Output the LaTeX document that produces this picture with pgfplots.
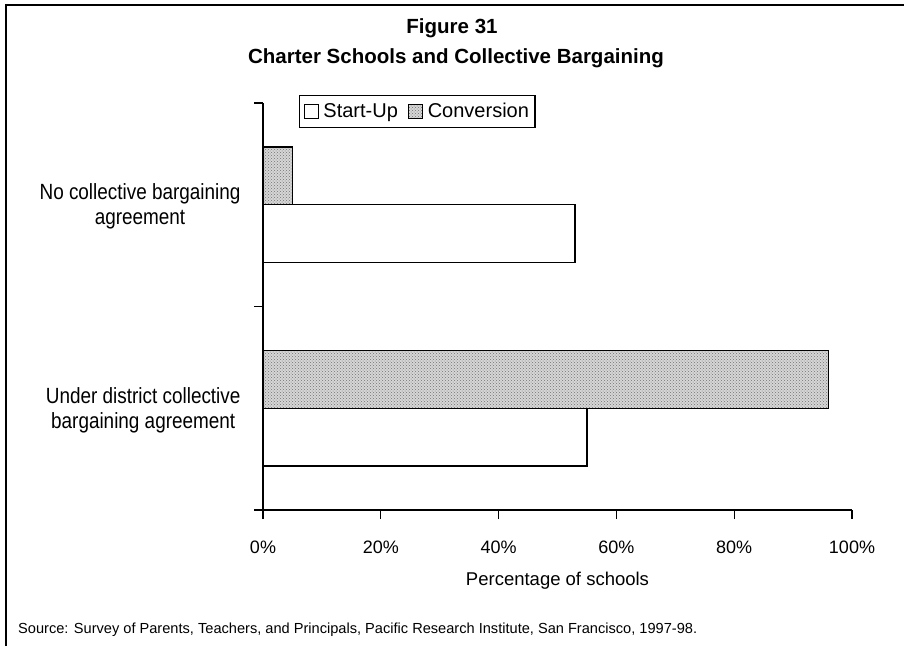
\documentclass[border=0pt]{standalone}
\usepackage{fontspec}
\setmainfont{Liberation Sans}
\newfontfamily\narrowfont{Liberation Sans}[FakeStretch=0.86]
\usepackage{pgfplots}
\pgfplotsset{compat=1.18}
\usetikzlibrary{patterns}
\definecolor{convgray}{gray}{0.84}
\begin{document}
\begin{tikzpicture}[x=1pt,y=1pt]
\useasboundingbox (0,0) rectangle (904,646);
% frame
\draw[line width=2pt] (6,0) -- (6,641) -- (904,641);
% titles
\node[anchor=base,inner sep=0pt,font=\bfseries\fontsize{20.5}{24}\selectfont] at (452,612) {Figure 31};
\node[anchor=base,inner sep=0pt,font=\bfseries\fontsize{20.5}{24}\selectfont] at (456,582) {Charter Schools and Collective Bargaining};
\node[anchor=base west,font=\fontsize{14.6}{18}\selectfont, inner sep=0pt] at (18,13) {Source: Survey of Parents, Teachers, and Principals, Pacific Research Institute, San Francisco, 1997-98.};
\begin{axis}[
  at={(263pt,136pt)}, anchor=south west,
  scale only axis, width=589pt, height=407pt,
  xbar, bar width=0.283,
  xmin=0, xmax=100, ymin=-0.5, ymax=1.5,
  axis x line=bottom, axis y line=left,
  axis line style={line width=1.3pt,-},
  xtick={0,20,40,60,80,100},
  xticklabels={0\%,20\%,40\%,60\%,80\%,100\%},
  xticklabel style={font=\fontsize{18}{20}\selectfont, yshift=-18pt},
  xlabel={Percentage of schools},
  xlabel style={font=\fontsize{18.5}{20}\selectfont, yshift=-12pt},
  ytick={0,1},
  yticklabels={Under district collective\\bargaining agreement, No collective bargaining\\agreement},
  yticklabel style={font=\narrowfont\fontsize{22}{25}\selectfont, align=center, xshift=-10pt, yshift=-2pt},
  y tick style={draw=none},
  extra y ticks={-0.5,0.5,1.5},
  extra y tick labels={},
  extra y tick style={y tick style={draw=black}},
  tick align=outside,
  major tick length=9pt,
  tick style={line width=1.3pt, black},
  legend style={at={(0.061,1.02)}, anchor=north west, draw=black, line width=1.2pt,
    font=\fontsize{20}{22}\selectfont, legend columns=2,
    inner xsep=4pt, inner ysep=6pt,
    /tikz/every odd column/.append style={column sep=3pt},
    /tikz/every even column/.append style={column sep=8pt}},
  legend cell align=left,
  legend image code/.code={\draw[#1, line width=0.9pt] (0pt,-7pt) rectangle (14pt,7pt);},
]
\addplot[draw=black, line width=1.4pt, fill=white, bar shift=-0.1415] coordinates {(55,0) (53,1)};
\addlegendentry{Start-Up}
\addplot[draw=black, line width=1.4pt, fill=convgray, postaction={pattern=crosshatch dots, pattern color=black!55}, bar shift=0.1415] coordinates {(96,0) (5,1)};
\addlegendentry{Conversion}
\end{axis}
\end{tikzpicture}
\end{document}
